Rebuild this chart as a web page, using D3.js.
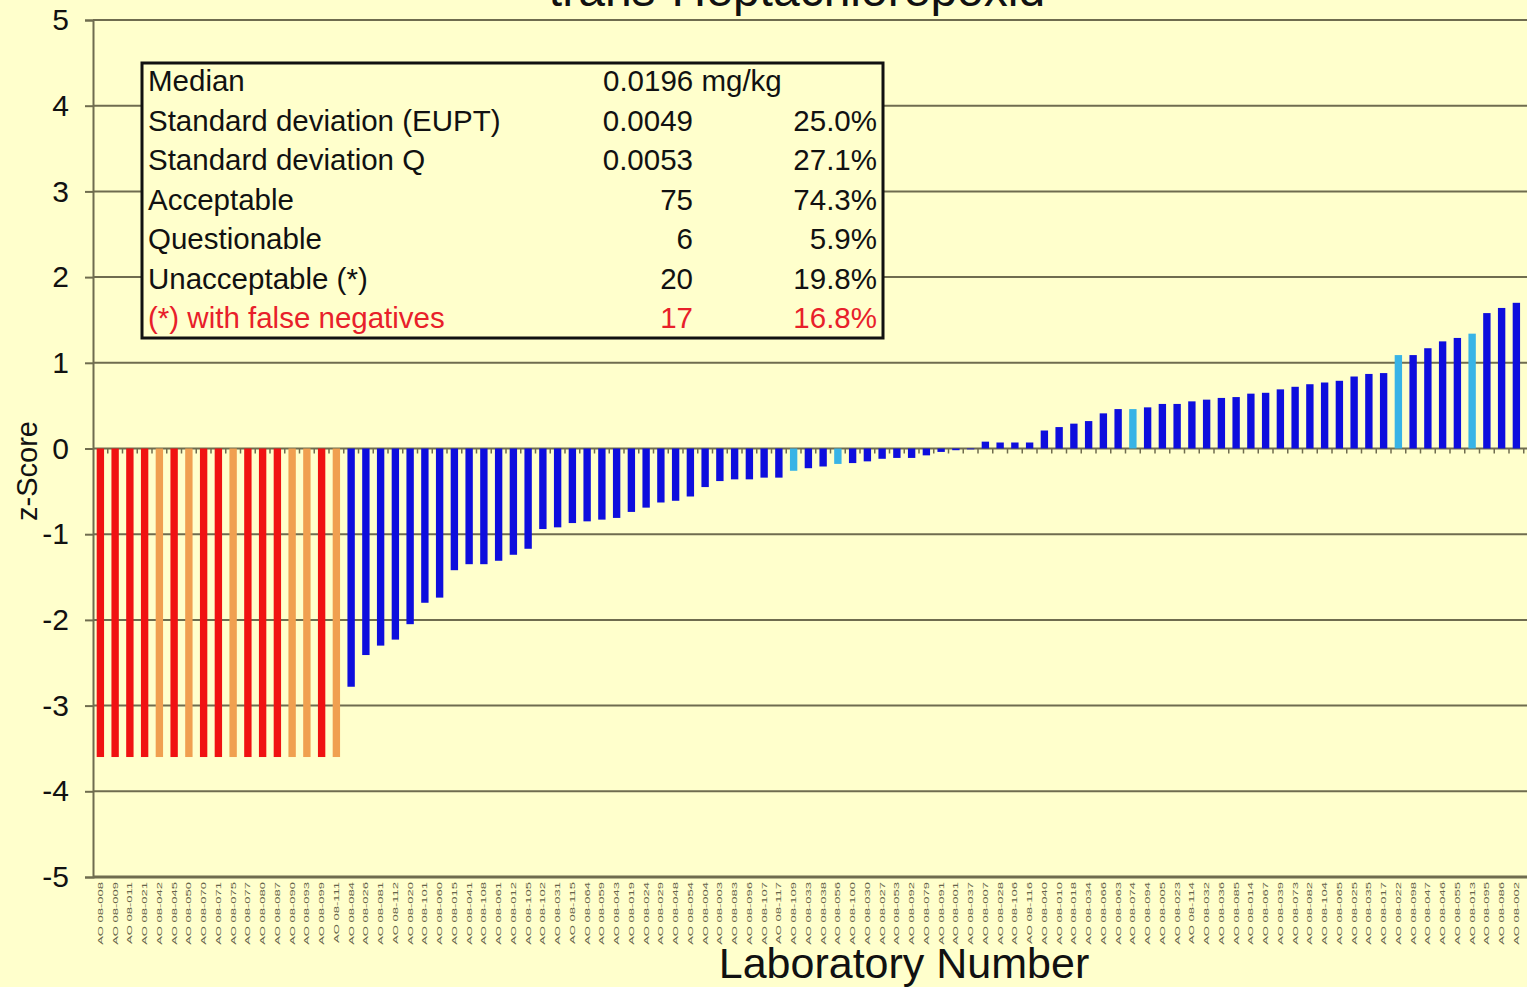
<!DOCTYPE html>
<html>
<head>
<meta charset="utf-8">
<script src="https://cdn.jsdelivr.net/npm/d3@7"></script>
<style>
  html, body { margin: 0; padding: 0; background: #FFFFCC; overflow: hidden; }
  svg { display: block; }
  text { font-family: "Liberation Sans", Arial, sans-serif; }
</style>
</head>
<body>
<svg id="chart" width="1527" height="987"></svg>
<script>
// ---------------- DATA ----------------
const chartTitle = "trans-Heptachlorepoxid";
const xAxisTitle = "Laboratory Number";
const yAxisTitle = "z-Score";

const labCodes = [
  "008","009","011","021","042","045","050","070","071","075","077","080","087","090","093","099","111",
  "084","026","081","112","020","101","060","015","041","108","061","012","105","102","031","115","064",
  "059","043","019","024","029","048","054","004","003","083","096","107","117","109","033","038","056",
  "100","030","027","053","092","079","091","001","037","007","028","106","116","040","010","018","034",
  "066","063","074","094","005","023","114","032","036","085","014","067","039","073","082","104","065",
  "025","035","017","022","098","047","046","055","013","095","086","002","057"
];
const categories = labCodes.map(c => "AO 08-" + c);

const zScores = [
  -3.6,-3.6,-3.6,-3.6,-3.6,-3.6,-3.6,-3.6,-3.6,-3.6,-3.6,-3.6,-3.6,-3.6,-3.6,-3.6,-3.6,
  -2.78,-2.41,-2.30,-2.23,-2.05,-1.80,-1.74,-1.42,-1.35,-1.35,-1.31,-1.24,-1.17,-0.94,-0.92,-0.87,
  -0.85,-0.83,-0.81,-0.74,-0.69,-0.63,-0.61,-0.56,-0.45,-0.38,-0.36,-0.36,-0.34,-0.34,-0.26,-0.23,
  -0.21,-0.18,-0.17,-0.15,-0.12,-0.11,-0.11,-0.08,-0.04,-0.02,-0.01,0.08,0.07,0.07,0.07,0.21,0.25,
  0.29,0.32,0.41,0.46,0.46,0.48,0.52,0.52,0.55,0.57,0.59,0.60,0.64,0.65,0.69,0.72,0.75,0.77,0.79,
  0.84,0.87,0.88,1.09,1.09,1.17,1.25,1.29,1.34,1.58,1.64,1.70,2.08
];

// R = false negative (red), O = false negative (orange), B = regular, C = highlighted (cyan)
const barStatus = [
  "R","R","R","R","O","R","O","R","R","O","R","R","R","O","O","R","O",
  "B","B","B","B","B","B","B","B","B","B","B","B","B","B","B","B",
  "B","B","B","B","B","B","B","B","B","B","B","B","B","B","C","B",
  "B","C","B","B","B","B","B","B","B","B","B","B","B","B","B","B","B",
  "B","B","B","B","C","B","B","B","B","B","B","B","B","B","B","B","B","B","B",
  "B","B","B","C","B","B","B","B","C","B","B","B","C"
];
const statusColors = { R: "#F01212", O: "#F0A050", B: "#0E0EDD", C: "#38B4E6" };

const yTicks = [5,4,3,2,1,0,-1,-2,-3,-4,-5];

const legendLabels = ["Median","Standard deviation (EUPT)","Standard deviation Q","Acceptable","Questionable","Unacceptable (*)","(*) with false negatives"];
const legendValues = ["0.0196 mg/kg","0.0049","0.0053","75","6","20","17"];
const legendPercents = ["","25.0%","27.1%","74.3%","5.9%","19.8%","16.8%"];

// ---------------- LAYOUT ----------------
const svg = d3.select("#chart");
const W = 1527, H = 987;
const plotLeft = 93, plotTop = 20, plotBottom = 877;
const step = 14.75;

const x = d3.scaleBand()
  .domain(categories)
  .range([plotLeft, plotLeft + step * categories.length])
  .paddingInner(0.5).paddingOuter(0.25);

const y = d3.scaleLinear().domain([-5, 5]).range([plotBottom, plotTop]);

svg.append("rect").attr("width", W).attr("height", H).attr("fill", "#FFFFCC");

const gridColor = "#6f6c4f";

// gridlines + left ticks
const yAxis = d3.axisLeft(y).tickValues(yTicks).tickSize(8).tickPadding(16).tickFormat(d3.format("d"));
const gy = svg.append("g").attr("transform", `translate(${plotLeft},0)`).call(yAxis);
gy.select(".domain").attr("stroke", gridColor).attr("stroke-width", 2);
gy.selectAll(".tick line").attr("stroke", gridColor).attr("stroke-width", 2);
gy.selectAll(".tick text")
  .attr("font-size", 30).attr("fill", "#111")
  .text(d => d < 0 ? "-" + Math.abs(d) : d);

svg.append("g").selectAll("line.grid").data(yTicks).join("line")
  .attr("x1", plotLeft).attr("x2", W)
  .attr("y1", d => y(d)).attr("y2", d => y(d))
  .attr("stroke", gridColor)
  .attr("stroke-width", d => d === -5 ? 3 : 2);

// bars
svg.append("g").selectAll("rect.bar").data(categories).join("rect")
  .attr("x", d => x(d))
  .attr("width", x.bandwidth())
  .attr("y", (d, i) => y(Math.max(0, zScores[i])))
  .attr("height", (d, i) => Math.abs(y(zScores[i]) - y(0)))
  .attr("fill", (d, i) => statusColors[barStatus[i]]);

// category ticks on the zero line
const xAxis = d3.axisBottom(x).tickSize(5).tickFormat("");
const gx = svg.append("g").attr("transform", `translate(0,${y(0)})`).call(xAxis);
gx.select(".domain").remove();
gx.selectAll(".tick line")
  .attr("transform", `translate(${step / 2},0)`)
  .attr("stroke", gridColor).attr("stroke-width", 1.5);

// category labels at the bottom
svg.append("g").selectAll("text.cat").data(categories).join("text")
  .attr("transform", d => `translate(${x(d) + x.bandwidth() / 2 + 2.5},882) rotate(-90) scale(1,0.55)`)
  .attr("text-anchor", "end")
  .attr("font-size", 13)
  .attr("fill", "#66644a")
  .text(d => d);

// axis titles
svg.append("text")
  .attr("x", 904).attr("y", 978)
  .attr("text-anchor", "middle")
  .attr("font-size", 43).attr("fill", "#111")
  .text(xAxisTitle);

svg.append("text")
  .attr("transform", "translate(37,471) rotate(-90)")
  .attr("text-anchor", "middle")
  .attr("font-size", 29).attr("fill", "#111")
  .text(yAxisTitle);

svg.append("text")
  .attr("x", 797).attr("y", 6)
  .attr("text-anchor", "middle")
  .attr("font-size", 48).attr("fill", "#111")
  .text(chartTitle);

// statistics box
const box = svg.append("g");
box.append("rect")
  .attr("x", 142).attr("y", 63).attr("width", 741).attr("height", 275)
  .attr("fill", "#FFFFCC").attr("stroke", "#111").attr("stroke-width", 3);

const fs = 29.5;
const rowY = d3.scalePoint().domain(d3.range(legendLabels.length)).range([81, 318]);
legendLabels.forEach((lab, i) => {
  const col = i === legendLabels.length - 1 ? "#E8202A" : "#111";
  const yy = rowY(i) + 10;
  box.append("text").attr("x", 148).attr("y", yy).attr("font-size", fs).attr("fill", col).text(lab);
  if (i === 0) {
    box.append("text").attr("x", 603).attr("y", yy).attr("font-size", fs).attr("fill", col).text(legendValues[i]);
  } else {
    box.append("text").attr("x", 693).attr("y", yy).attr("text-anchor", "end").attr("font-size", fs).attr("fill", col).text(legendValues[i]);
  }
  box.append("text").attr("x", 877).attr("y", yy).attr("text-anchor", "end").attr("font-size", fs).attr("fill", col).text(legendPercents[i]);
});
</script>
</body>
</html>
